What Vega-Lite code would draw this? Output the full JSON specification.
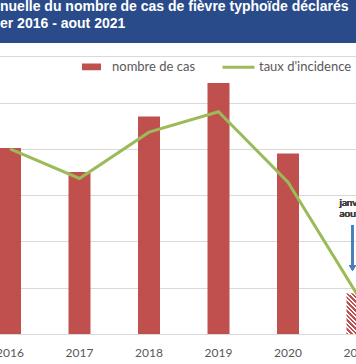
{
  "$schema": "https://vega.github.io/schema/vega-lite/v6.json",
  "width": 356,
  "height": 334,
  "autosize": {"type": "none"},
  "padding": {"left": 0, "top": 0, "right": 0, "bottom": 30},
  "background": "white",
  "config": {"view": {"stroke": null}, "font": "Lato"},
  "title": {
    "text": ["nuelle du nombre de cas de fièvre typhoïde déclarés", "er 2016 - aout 2021"],
    "anchor": "start",
    "frame": "group",
    "orient": "top",
    "offset": -45,
    "baseline": "bottom",
    "font": "Liberation Sans",
    "fontSize": 14,
    "fontWeight": "bold",
    "color": "white",
    "lineHeight": 17,
    "zindex": 1
  },
  "data": {
    "values": [
      {"annee": "2016", "cas": 201, "taux": 0.200},
      {"annee": "2017", "cas": 175, "taux": 0.168},
      {"annee": "2018", "cas": 235, "taux": 0.218},
      {"annee": "2019", "cas": 271, "taux": 0.240},
      {"annee": "2020", "cas": 195, "taux": 0.164},
      {"annee": "2021", "cas": 44, "taux": 0.042}
    ]
  },
  "layer": [
    {
      "layer": [
        {
          "mark": {"type": "rect", "color": "#294B8A"},
          "encoding": {
            "y": {"datum": 314.3, "type": "quantitative"},
            "y2": {"datum": 361}
          }
        },
        {
          "transform": [{"filter": "datum.annee !== '2021'"}],
          "mark": {"type": "bar", "width": 22},
          "encoding": {
            "x": {
              "field": "annee",
              "type": "ordinal",
              "scale": {"type": "band", "domain": ["2016", "2017", "2018", "2019", "2020", "2021"], "range": [-24.75, 392.25], "paddingInner": 0, "paddingOuter": 0},
              "axis": {"title": null, "labelAngle": 0, "ticks": false, "tickSize": 0, "domain": false, "labelPadding": 13, "labelFont": "Lato", "labelFontSize": 12, "labelColor": "#595959", "grid": false}
            },
            "y": {
              "field": "cas",
              "type": "quantitative",
              "scale": {"domain": [0, 360.7], "nice": false, "zero": true},
              "axis": {"title": null, "labels": false, "ticks": false, "domain": false, "grid": true, "gridColor": "#D9D9D9", "gridWidth": 1, "values": [0, 50, 100, 150, 200, 250, 300, 350]}
            },
            "color": {
              "datum": "nombre de cas",
              "type": "nominal",
              "scale": {"domain": ["nombre de cas", "taux d'incidence"], "range": ["#C0504D", "#9BBB59"]},
              "legend": {
                "orient": "none",
                "legendX": 74,
                "legendY": 49,
                "direction": "horizontal",
                "title": null,
                "labelFont": "Lato",
                "labelFontSize": 13,
                "labelColor": "#595959",
                "symbolSize": 1024,
                "labelOffset": 3,
                "columnPadding": 20,
                "padding": 0,
                "encode": {
                  "symbols": {
                    "update": {
                      "shape": {"signal": "datum.value === 'nombre de cas' ? 'M-0.5,-0.11H0.5V0.11H-0.5Z' : 'stroke'"},
                      "fill": {"signal": "datum.value === 'nombre de cas' ? '#C0504D' : 'transparent'"},
                      "stroke": {"signal": "datum.value === 'nombre de cas' ? 'transparent' : '#9BBB59'"},
                      "strokeWidth": {"value": 3},
                      "opacity": {"value": 1}
                    }
                  }
                }
              }
            }
          }
        },
        {
          "transform": [{"filter": "datum.annee === '2021'"}],
          "mark": {
            "type": "bar",
            "width": 22,
            "fill": {
              "gradient": "linear",
              "x1": 0, "y1": 1, "x2": 0.64, "y2": -0.193,
              "stops": [
                {"offset": 0, "color": "#C0504D"}, {"offset": 0.0357, "color": "#C0504D"}, {"offset": 0.0357, "color": "#ffffff"}, {"offset": 0.0714, "color": "#ffffff"},
                {"offset": 0.0714, "color": "#C0504D"}, {"offset": 0.1071, "color": "#C0504D"}, {"offset": 0.1071, "color": "#ffffff"}, {"offset": 0.1429, "color": "#ffffff"},
                {"offset": 0.1429, "color": "#C0504D"}, {"offset": 0.1786, "color": "#C0504D"}, {"offset": 0.1786, "color": "#ffffff"}, {"offset": 0.2143, "color": "#ffffff"},
                {"offset": 0.2143, "color": "#C0504D"}, {"offset": 0.25, "color": "#C0504D"}, {"offset": 0.25, "color": "#ffffff"}, {"offset": 0.2857, "color": "#ffffff"},
                {"offset": 0.2857, "color": "#C0504D"}, {"offset": 0.3214, "color": "#C0504D"}, {"offset": 0.3214, "color": "#ffffff"}, {"offset": 0.3571, "color": "#ffffff"},
                {"offset": 0.3571, "color": "#C0504D"}, {"offset": 0.3929, "color": "#C0504D"}, {"offset": 0.3929, "color": "#ffffff"}, {"offset": 0.4286, "color": "#ffffff"},
                {"offset": 0.4286, "color": "#C0504D"}, {"offset": 0.4643, "color": "#C0504D"}, {"offset": 0.4643, "color": "#ffffff"}, {"offset": 0.5, "color": "#ffffff"},
                {"offset": 0.5, "color": "#C0504D"}, {"offset": 0.5357, "color": "#C0504D"}, {"offset": 0.5357, "color": "#ffffff"}, {"offset": 0.5714, "color": "#ffffff"},
                {"offset": 0.5714, "color": "#C0504D"}, {"offset": 0.6071, "color": "#C0504D"}, {"offset": 0.6071, "color": "#ffffff"}, {"offset": 0.6429, "color": "#ffffff"},
                {"offset": 0.6429, "color": "#C0504D"}, {"offset": 0.6786, "color": "#C0504D"}, {"offset": 0.6786, "color": "#ffffff"}, {"offset": 0.7143, "color": "#ffffff"},
                {"offset": 0.7143, "color": "#C0504D"}, {"offset": 0.75, "color": "#C0504D"}, {"offset": 0.75, "color": "#ffffff"}, {"offset": 0.7857, "color": "#ffffff"},
                {"offset": 0.7857, "color": "#C0504D"}, {"offset": 0.8214, "color": "#C0504D"}, {"offset": 0.8214, "color": "#ffffff"}, {"offset": 0.8571, "color": "#ffffff"},
                {"offset": 0.8571, "color": "#C0504D"}, {"offset": 0.8929, "color": "#C0504D"}, {"offset": 0.8929, "color": "#ffffff"}, {"offset": 0.9286, "color": "#ffffff"},
                {"offset": 0.9286, "color": "#C0504D"}, {"offset": 0.9643, "color": "#C0504D"}, {"offset": 0.9643, "color": "#ffffff"}, {"offset": 1, "color": "#ffffff"}
              ]
            }
          },
          "encoding": {
            "x": {"field": "annee", "type": "ordinal"},
            "y": {"field": "cas", "type": "quantitative"}
          }
        },
        {
          "mark": {"type": "text", "text": ["janvier -", "aout 2021"], "align": "left", "baseline": "middle", "dx": -18, "fontSize": 10, "color": "#404040", "lineHeight": 11, "font": "Lato"},
          "encoding": {
            "x": {"datum": "2021", "type": "ordinal"},
            "y": {"datum": 141, "type": "quantitative"}
          }
        },
        {
          "mark": {"type": "rule", "color": "#4A7EBB", "strokeWidth": 2, "xOffset": -5},
          "encoding": {
            "x": {"datum": "2021", "type": "ordinal"},
            "y": {"datum": 117.7, "type": "quantitative"},
            "y2": {"datum": 74}
          }
        },
        {
          "mark": {"type": "point", "shape": "triangle-down", "filled": true, "color": "#4A7EBB", "size": 50, "opacity": 1, "xOffset": -5},
          "encoding": {
            "x": {"datum": "2021", "type": "ordinal"},
            "y": {"datum": 71.3, "type": "quantitative"}
          }
        }
      ]
    },
    {
      "mark": {"type": "line", "strokeWidth": 3},
      "encoding": {
        "x": {"field": "annee", "type": "ordinal"},
        "y": {"field": "taux", "type": "quantitative", "scale": {"domain": [0, 0.3607], "nice": false, "zero": true}, "axis": null},
        "color": {"datum": "taux d'incidence", "type": "nominal"}
      }
    }
  ],
  "resolve": {"scale": {"y": "independent"}}
}
